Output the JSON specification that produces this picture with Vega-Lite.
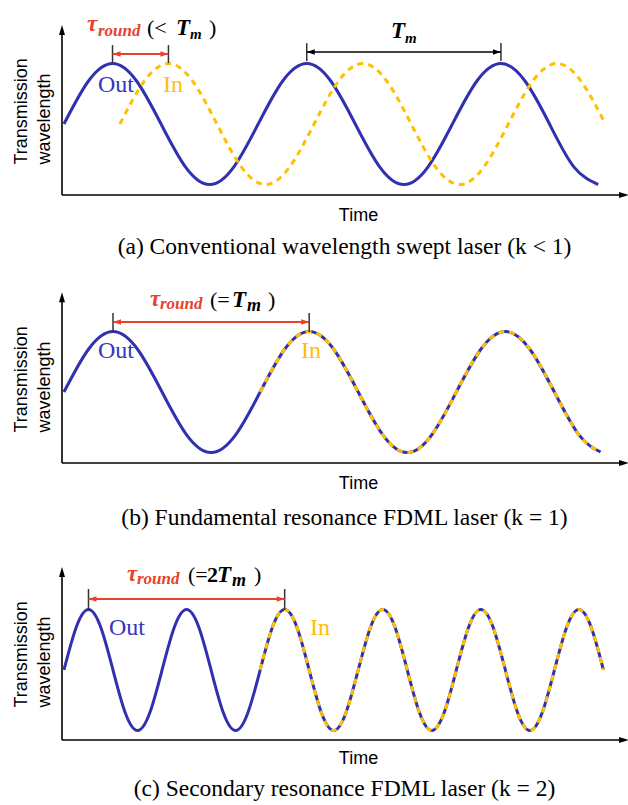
{
  "$schema": "https://vega.github.io/schema/vega-lite/v6.json",
  "background": "white",
  "padding": {"left": 12, "top": 10, "right": 0, "bottom": 0},
  "spacing": 19,
  "config": {
    "view": {"stroke": null},
    "axis": {"domain": false, "ticks": false, "labels": false, "grid": false, "titleFont": "Liberation Sans", "titleFontSize": 18, "titleFontWeight": "normal", "titleColor": "#000"},
    "title": {"font": "Liberation Serif", "fontSize": 23.5, "fontWeight": "normal", "color": "#000", "orient": "bottom", "frame": "group", "anchor": "middle"}
  },
  "datasets": {
    "curves": [
      {"p":"a","s":"Out","t":0.01,"w":0},{"p":"a","s":"Out","t":0.134,"w":0.707},{"p":"a","s":"Out","t":0.258,"w":1},{"p":"a","s":"Out","t":0.381,"w":0.707},{"p":"a","s":"Out","t":0.505,"w":0},{"p":"a","s":"Out","t":0.629,"w":-0.707},{"p":"a","s":"Out","t":0.753,"w":-1},{"p":"a","s":"Out","t":0.876,"w":-0.707},{"p":"a","s":"Out","t":1.0,"w":0},{"p":"a","s":"Out","t":1.124,"w":0.707},{"p":"a","s":"Out","t":1.248,"w":1},{"p":"a","s":"Out","t":1.371,"w":0.707},{"p":"a","s":"Out","t":1.495,"w":0},{"p":"a","s":"Out","t":1.619,"w":-0.707},{"p":"a","s":"Out","t":1.743,"w":-1},{"p":"a","s":"Out","t":1.866,"w":-0.707},{"p":"a","s":"Out","t":1.99,"w":0},{"p":"a","s":"Out","t":2.114,"w":0.707},{"p":"a","s":"Out","t":2.238,"w":1},{"p":"a","s":"Out","t":2.361,"w":0.707},{"p":"a","s":"Out","t":2.485,"w":0},{"p":"a","s":"Out","t":2.609,"w":-0.707},{"p":"a","s":"Out","t":2.733,"w":-1},
      {"p":"a","s":"In","t":0.295,"w":0},{"p":"a","s":"In","t":0.419,"w":0.707},{"p":"a","s":"In","t":0.543,"w":1},{"p":"a","s":"In","t":0.666,"w":0.707},{"p":"a","s":"In","t":0.79,"w":0},{"p":"a","s":"In","t":0.914,"w":-0.707},{"p":"a","s":"In","t":1.038,"w":-1},{"p":"a","s":"In","t":1.161,"w":-0.707},{"p":"a","s":"In","t":1.285,"w":0},{"p":"a","s":"In","t":1.409,"w":0.707},{"p":"a","s":"In","t":1.533,"w":1},{"p":"a","s":"In","t":1.656,"w":0.707},{"p":"a","s":"In","t":1.78,"w":0},{"p":"a","s":"In","t":1.904,"w":-0.707},{"p":"a","s":"In","t":2.028,"w":-1},{"p":"a","s":"In","t":2.151,"w":-0.707},{"p":"a","s":"In","t":2.275,"w":0},{"p":"a","s":"In","t":2.399,"w":0.707},{"p":"a","s":"In","t":2.523,"w":1},{"p":"a","s":"In","t":2.646,"w":0.707},{"p":"a","s":"In","t":2.77,"w":0},
      {"p":"b","s":"Out","t":0.01,"w":0},{"p":"b","s":"Out","t":0.135,"w":0.707},{"p":"b","s":"Out","t":0.26,"w":1},{"p":"b","s":"Out","t":0.385,"w":0.707},{"p":"b","s":"Out","t":0.51,"w":0},{"p":"b","s":"Out","t":0.635,"w":-0.707},{"p":"b","s":"Out","t":0.76,"w":-1},{"p":"b","s":"Out","t":0.885,"w":-0.707},{"p":"b","s":"Out","t":1.01,"w":0},{"p":"b","s":"Out","t":1.135,"w":0.707},{"p":"b","s":"Out","t":1.26,"w":1},{"p":"b","s":"Out","t":1.385,"w":0.707},{"p":"b","s":"Out","t":1.51,"w":0},{"p":"b","s":"Out","t":1.635,"w":-0.707},{"p":"b","s":"Out","t":1.76,"w":-1},{"p":"b","s":"Out","t":1.885,"w":-0.707},{"p":"b","s":"Out","t":2.01,"w":0},{"p":"b","s":"Out","t":2.135,"w":0.707},{"p":"b","s":"Out","t":2.26,"w":1},{"p":"b","s":"Out","t":2.385,"w":0.707},{"p":"b","s":"Out","t":2.51,"w":0},{"p":"b","s":"Out","t":2.635,"w":-0.707},{"p":"b","s":"Out","t":2.745,"w":-0.99},
      {"p":"b","s":"In","t":1.01,"w":0},{"p":"b","s":"In","t":1.135,"w":0.707},{"p":"b","s":"In","t":1.26,"w":1},{"p":"b","s":"In","t":1.385,"w":0.707},{"p":"b","s":"In","t":1.51,"w":0},{"p":"b","s":"In","t":1.635,"w":-0.707},{"p":"b","s":"In","t":1.76,"w":-1},{"p":"b","s":"In","t":1.885,"w":-0.707},{"p":"b","s":"In","t":2.01,"w":0},{"p":"b","s":"In","t":2.135,"w":0.707},{"p":"b","s":"In","t":2.26,"w":1},{"p":"b","s":"In","t":2.385,"w":0.707},{"p":"b","s":"In","t":2.51,"w":0},{"p":"b","s":"In","t":2.635,"w":-0.707},{"p":"b","s":"In","t":2.745,"w":-0.99},
      {"p":"c","s":"Out","t":0.01,"w":0},{"p":"c","s":"Out","t":0.0725,"w":0.707},{"p":"c","s":"Out","t":0.135,"w":1},{"p":"c","s":"Out","t":0.1975,"w":0.707},{"p":"c","s":"Out","t":0.26,"w":0},{"p":"c","s":"Out","t":0.3225,"w":-0.707},{"p":"c","s":"Out","t":0.385,"w":-1},{"p":"c","s":"Out","t":0.4475,"w":-0.707},{"p":"c","s":"Out","t":0.51,"w":0},{"p":"c","s":"Out","t":0.5725,"w":0.707},{"p":"c","s":"Out","t":0.635,"w":1},{"p":"c","s":"Out","t":0.6975,"w":0.707},{"p":"c","s":"Out","t":0.76,"w":0},{"p":"c","s":"Out","t":0.8225,"w":-0.707},{"p":"c","s":"Out","t":0.885,"w":-1},{"p":"c","s":"Out","t":0.9475,"w":-0.707},{"p":"c","s":"Out","t":1.01,"w":0},{"p":"c","s":"Out","t":1.0725,"w":0.707},{"p":"c","s":"Out","t":1.135,"w":1},{"p":"c","s":"Out","t":1.1975,"w":0.707},{"p":"c","s":"Out","t":1.26,"w":0},{"p":"c","s":"Out","t":1.3225,"w":-0.707},{"p":"c","s":"Out","t":1.385,"w":-1},{"p":"c","s":"Out","t":1.4475,"w":-0.707},{"p":"c","s":"Out","t":1.51,"w":0},{"p":"c","s":"Out","t":1.5725,"w":0.707},{"p":"c","s":"Out","t":1.635,"w":1},{"p":"c","s":"Out","t":1.6975,"w":0.707},{"p":"c","s":"Out","t":1.76,"w":0},{"p":"c","s":"Out","t":1.8225,"w":-0.707},{"p":"c","s":"Out","t":1.885,"w":-1},{"p":"c","s":"Out","t":1.9475,"w":-0.707},{"p":"c","s":"Out","t":2.01,"w":0},{"p":"c","s":"Out","t":2.0725,"w":0.707},{"p":"c","s":"Out","t":2.135,"w":1},{"p":"c","s":"Out","t":2.1975,"w":0.707},{"p":"c","s":"Out","t":2.26,"w":0},{"p":"c","s":"Out","t":2.3225,"w":-0.707},{"p":"c","s":"Out","t":2.385,"w":-1},{"p":"c","s":"Out","t":2.4475,"w":-0.707},{"p":"c","s":"Out","t":2.51,"w":0},{"p":"c","s":"Out","t":2.5725,"w":0.707},{"p":"c","s":"Out","t":2.635,"w":1},{"p":"c","s":"Out","t":2.6975,"w":0.707},{"p":"c","s":"Out","t":2.76,"w":0},
      {"p":"c","s":"In","t":1.01,"w":0},{"p":"c","s":"In","t":1.0725,"w":0.707},{"p":"c","s":"In","t":1.135,"w":1},{"p":"c","s":"In","t":1.1975,"w":0.707},{"p":"c","s":"In","t":1.26,"w":0},{"p":"c","s":"In","t":1.3225,"w":-0.707},{"p":"c","s":"In","t":1.385,"w":-1},{"p":"c","s":"In","t":1.4475,"w":-0.707},{"p":"c","s":"In","t":1.51,"w":0},{"p":"c","s":"In","t":1.5725,"w":0.707},{"p":"c","s":"In","t":1.635,"w":1},{"p":"c","s":"In","t":1.6975,"w":0.707},{"p":"c","s":"In","t":1.76,"w":0},{"p":"c","s":"In","t":1.8225,"w":-0.707},{"p":"c","s":"In","t":1.885,"w":-1},{"p":"c","s":"In","t":1.9475,"w":-0.707},{"p":"c","s":"In","t":2.01,"w":0},{"p":"c","s":"In","t":2.0725,"w":0.707},{"p":"c","s":"In","t":2.135,"w":1},{"p":"c","s":"In","t":2.1975,"w":0.707},{"p":"c","s":"In","t":2.26,"w":0},{"p":"c","s":"In","t":2.3225,"w":-0.707},{"p":"c","s":"In","t":2.385,"w":-1},{"p":"c","s":"In","t":2.4475,"w":-0.707},{"p":"c","s":"In","t":2.51,"w":0},{"p":"c","s":"In","t":2.5725,"w":0.707},{"p":"c","s":"In","t":2.635,"w":1},{"p":"c","s":"In","t":2.6975,"w":0.707},{"p":"c","s":"In","t":2.76,"w":0}
    ]
  },
  "vconcat": [
    {
      "width": 565, "height": 185,
      "title": {"text": "(a) Conventional wavelength swept laser (k < 1)", "offset": 11},
      "encoding": {
        "x": {"field": "t", "type": "quantitative", "scale": {"domain": [0, 2.88], "nice": false, "zero": false}, "axis": {"title": "Time", "titleX": 296, "titleY": 11, "titleAlign": "center", "titleBaseline": "top"}},
        "y": {"field": "w", "type": "quantitative", "scale": {"domain": [-1.172, 1.884], "nice": false, "zero": false}, "axis": {"title": ["Transmission", "wavelength"], "titleAngle": -90, "titleX": -32, "titleY": 154, "titleAlign": "left", "titleBaseline": "bottom", "titleLineHeight": 23}}
      },
      "layer": [
        {"data": {"values": [{"t": 0, "w": -1.172, "w2": 1.552}]}, "mark": {"type": "rule", "color": "#000", "strokeWidth": 1.6}, "encoding": {"y2": {"field": "w2"}}},
        {"data": {"values": [{"t": 0, "t2": 2.865, "w": -1.172}]}, "mark": {"type": "rule", "color": "#000", "strokeWidth": 1.6}, "encoding": {"x2": {"field": "t2"}}},
        {"data": {"values": [{"t": 0, "w": 1.552}]}, "mark": {"type": "point", "shape": "M0,-1L0.6,1L-0.6,1Z", "size": 100, "filled": true, "color": "#000", "opacity": 1}},
        {"data": {"values": [{"t": 2.865, "w": -1.172}]}, "mark": {"type": "point", "shape": "M1,0L-1,-0.6L-1,0.6Z", "size": 100, "filled": true, "color": "#000", "opacity": 1}},
        {"data": {"name": "curves"}, "transform": [{"filter": "datum.p == 'a' && datum.s == 'Out'"}], "mark": {"type": "line", "color": "#3030B0", "strokeWidth": 3, "interpolate": "natural"}},
        {"data": {"name": "curves"}, "transform": [{"filter": "datum.p == 'a' && datum.s == 'In'"}], "mark": {"type": "line", "color": "#FFC000", "strokeWidth": 3, "strokeDash": [6, 5], "interpolate": "natural"}},
        {"data": {"values": [{"t": 0.2575, "w": 1.007, "w2": 1.304}, {"t": 0.5425, "w": 1.007, "w2": 1.304}, {"t": 1.2475, "w": 1.04, "w2": 1.337}, {"t": 2.2375, "w": 1.04, "w2": 1.337}]}, "mark": {"type": "rule", "color": "#333", "strokeWidth": 1.5}, "encoding": {"y2": {"field": "w2"}}},
        {"data": {"values": [{"t": 0.2575, "t2": 0.5425, "w": 1.156}]}, "mark": {"type": "rule", "color": "#E8412C", "strokeWidth": 2}, "encoding": {"x2": {"field": "t2"}}},
        {"data": {"values": [{"t": 1.2475, "t2": 2.2375, "w": 1.189}]}, "mark": {"type": "rule", "color": "#000", "strokeWidth": 1.6}, "encoding": {"x2": {"field": "t2"}}},
        {"data": {"values": [{"t": 0.2779, "w": 1.156}]}, "mark": {"type": "point", "shape": "M-1,0L1,-0.7L1,0.7Z", "size": 64, "filled": true, "color": "#E8412C", "opacity": 1}},
        {"data": {"values": [{"t": 0.5221, "w": 1.156}]}, "mark": {"type": "point", "shape": "M1,0L-1,-0.7L-1,0.7Z", "size": 64, "filled": true, "color": "#E8412C", "opacity": 1}},
        {"data": {"values": [{"t": 1.2679, "w": 1.189}]}, "mark": {"type": "point", "shape": "M-1,0L1,-0.7L1,0.7Z", "size": 64, "filled": true, "color": "#000", "opacity": 1}},
        {"data": {"values": [{"t": 2.2171, "w": 1.189}]}, "mark": {"type": "point", "shape": "M1,0L-1,-0.7L-1,0.7Z", "size": 64, "filled": true, "color": "#000", "opacity": 1}},
        {"data": {"values": [{"t": 0.1274, "w": 1.535, "label": "τ"}]}, "mark": {"type": "text", "font": "Liberation Serif", "fontSize": 23, "fontWeight": "bold", "fontStyle": "italic", "color": "#E8412C", "align": "left", "baseline": "alphabetic"}, "encoding": {"text": {"field": "label"}}},
        {"data": {"values": [{"t": 0.1835, "w": 1.453, "label": "round"}]}, "mark": {"type": "text", "font": "Liberation Serif", "fontSize": 17, "fontWeight": "bold", "fontStyle": "italic", "color": "#E8412C", "align": "left", "baseline": "alphabetic"}, "encoding": {"text": {"field": "label"}}},
        {"data": {"values": [{"t": 0.4333, "w": 1.469, "label": "(<"}, {"t": 0.7493, "w": 1.469, "label": ")"}]}, "mark": {"type": "text", "font": "Liberation Serif", "fontSize": 22, "color": "#000", "align": "left", "baseline": "alphabetic"}, "encoding": {"text": {"field": "label"}}},
        {"data": {"values": [{"t": 0.5811, "w": 1.469, "label": "T"}, {"t": 1.677, "w": 1.42, "label": "T"}]}, "mark": {"type": "text", "font": "Liberation Serif", "fontSize": 23, "fontWeight": "bold", "fontStyle": "italic", "color": "#000", "align": "left", "baseline": "alphabetic"}, "encoding": {"text": {"field": "label"}}},
        {"data": {"values": [{"t": 0.6525, "w": 1.403, "label": "m"}, {"t": 1.748, "w": 1.337, "label": "m"}]}, "mark": {"type": "text", "font": "Liberation Serif", "fontSize": 15, "fontWeight": "bold", "fontStyle": "italic", "color": "#000", "align": "left", "baseline": "alphabetic"}, "encoding": {"text": {"field": "label"}}},
        {"data": {"values": [{"t": 0.1835, "w": 0.528, "label": "Out"}]}, "mark": {"type": "text", "font": "Liberation Serif", "fontSize": 24, "color": "#3535C0", "align": "left", "baseline": "alphabetic"}, "encoding": {"text": {"field": "label"}}},
        {"data": {"values": [{"t": 0.5148, "w": 0.528, "label": "In"}]}, "mark": {"type": "text", "font": "Liberation Serif", "fontSize": 24, "color": "#FFC000", "align": "left", "baseline": "alphabetic"}, "encoding": {"text": {"field": "label"}}}
      ]
    },
    {
      "width": 565, "height": 185,
      "title": {"text": "(b) Fundamental resonance FDML laser (k = 1)", "offset": 14},
      "encoding": {
        "x": {"field": "t", "type": "quantitative", "scale": {"domain": [0, 2.88], "nice": false, "zero": false}, "axis": {"title": "Time", "titleX": 296, "titleY": 11, "titleAlign": "center", "titleBaseline": "top"}},
        "y": {"field": "w", "type": "quantitative", "scale": {"domain": [-1.172, 1.884], "nice": false, "zero": false}, "axis": {"title": ["Transmission", "wavelength"], "titleAngle": -90, "titleX": -32, "titleY": 154, "titleAlign": "left", "titleBaseline": "bottom", "titleLineHeight": 23}}
      },
      "layer": [
        {"data": {"values": [{"t": 0, "w": -1.172, "w2": 1.568}]}, "mark": {"type": "rule", "color": "#000", "strokeWidth": 1.6}, "encoding": {"y2": {"field": "w2"}}},
        {"data": {"values": [{"t": 0, "t2": 2.865, "w": -1.172}]}, "mark": {"type": "rule", "color": "#000", "strokeWidth": 1.6}, "encoding": {"x2": {"field": "t2"}}},
        {"data": {"values": [{"t": 0, "w": 1.568}]}, "mark": {"type": "point", "shape": "M0,-1L0.6,1L-0.6,1Z", "size": 100, "filled": true, "color": "#000", "opacity": 1}},
        {"data": {"values": [{"t": 2.865, "w": -1.172}]}, "mark": {"type": "point", "shape": "M1,0L-1,-0.6L-1,0.6Z", "size": 100, "filled": true, "color": "#000", "opacity": 1}},
        {"data": {"name": "curves"}, "transform": [{"filter": "datum.p == 'b' && datum.s == 'Out'"}], "mark": {"type": "line", "color": "#3030B0", "strokeWidth": 3, "interpolate": "natural"}},
        {"data": {"name": "curves"}, "transform": [{"filter": "datum.p == 'b' && datum.s == 'In'"}], "mark": {"type": "line", "color": "#FFC000", "strokeWidth": 3, "strokeDash": [6, 5], "interpolate": "natural"}},
        {"data": {"values": [{"t": 0.26, "w": 0.99, "w2": 1.304}, {"t": 1.26, "w": 0.99, "w2": 1.304}]}, "mark": {"type": "rule", "color": "#333", "strokeWidth": 1.5}, "encoding": {"y2": {"field": "w2"}}},
        {"data": {"values": [{"t": 0.26, "t2": 1.26, "w": 1.156}]}, "mark": {"type": "rule", "color": "#E8412C", "strokeWidth": 2}, "encoding": {"x2": {"field": "t2"}}},
        {"data": {"values": [{"t": 0.2804, "w": 1.156}]}, "mark": {"type": "point", "shape": "M-1,0L1,-0.7L1,0.7Z", "size": 64, "filled": true, "color": "#E8412C", "opacity": 1}},
        {"data": {"values": [{"t": 1.2396, "w": 1.156}]}, "mark": {"type": "point", "shape": "M1,0L-1,-0.7L-1,0.7Z", "size": 64, "filled": true, "color": "#E8412C", "opacity": 1}},
        {"data": {"values": [{"t": 0.4486, "w": 1.42, "label": "τ"}]}, "mark": {"type": "text", "font": "Liberation Serif", "fontSize": 23, "fontWeight": "bold", "fontStyle": "italic", "color": "#E8412C", "align": "left", "baseline": "alphabetic"}, "encoding": {"text": {"field": "label"}}},
        {"data": {"values": [{"t": 0.4995, "w": 1.37, "label": "round"}]}, "mark": {"type": "text", "font": "Liberation Serif", "fontSize": 17, "fontWeight": "bold", "fontStyle": "italic", "color": "#E8412C", "align": "left", "baseline": "alphabetic"}, "encoding": {"text": {"field": "label"}}},
        {"data": {"values": [{"t": 0.7544, "w": 1.403, "label": "(="}, {"t": 1.05, "w": 1.403, "label": ")"}]}, "mark": {"type": "text", "font": "Liberation Serif", "fontSize": 22, "color": "#000", "align": "left", "baseline": "alphabetic"}, "encoding": {"text": {"field": "label"}}},
        {"data": {"values": [{"t": 0.8666, "w": 1.403, "label": "T"}]}, "mark": {"type": "text", "font": "Liberation Serif", "fontSize": 23, "fontWeight": "bold", "fontStyle": "italic", "color": "#000", "align": "left", "baseline": "alphabetic"}, "encoding": {"text": {"field": "label"}}},
        {"data": {"values": [{"t": 0.943, "w": 1.337, "label": "m"}]}, "mark": {"type": "text", "font": "Liberation Serif", "fontSize": 18, "fontWeight": "bold", "fontStyle": "italic", "color": "#000", "align": "left", "baseline": "alphabetic"}, "encoding": {"text": {"field": "label"}}},
        {"data": {"values": [{"t": 0.1835, "w": 0.561, "label": "Out"}]}, "mark": {"type": "text", "font": "Liberation Serif", "fontSize": 24, "color": "#3535C0", "align": "left", "baseline": "alphabetic"}, "encoding": {"text": {"field": "label"}}},
        {"data": {"values": [{"t": 1.218, "w": 0.561, "label": "In"}]}, "mark": {"type": "text", "font": "Liberation Serif", "fontSize": 24, "color": "#FFC000", "align": "left", "baseline": "alphabetic"}, "encoding": {"text": {"field": "label"}}}
      ]
    },
    {
      "width": 565, "height": 191,
      "title": {"text": "(c) Secondary resonance FDML laser (k = 2)", "offset": 10},
      "encoding": {
        "x": {"field": "t", "type": "quantitative", "scale": {"domain": [0, 2.88], "nice": false, "zero": false}, "axis": {"title": "Time", "titleX": 296, "titleY": 9, "titleAlign": "center", "titleBaseline": "top"}},
        "y": {"field": "w", "type": "quantitative", "scale": {"domain": [-1.156, 1.998], "nice": false, "zero": false}, "axis": {"title": ["Transmission", "wavelength"], "titleAngle": -90, "titleX": -32, "titleY": 158, "titleAlign": "left", "titleBaseline": "bottom", "titleLineHeight": 23}}
      },
      "layer": [
        {"data": {"values": [{"t": 0, "w": -1.156, "w2": 1.618}]}, "mark": {"type": "rule", "color": "#000", "strokeWidth": 1.6}, "encoding": {"y2": {"field": "w2"}}},
        {"data": {"values": [{"t": 0, "t2": 2.865, "w": -1.156}]}, "mark": {"type": "rule", "color": "#000", "strokeWidth": 1.6}, "encoding": {"x2": {"field": "t2"}}},
        {"data": {"values": [{"t": 0, "w": 1.618}]}, "mark": {"type": "point", "shape": "M0,-1L0.6,1L-0.6,1Z", "size": 100, "filled": true, "color": "#000", "opacity": 1}},
        {"data": {"values": [{"t": 2.865, "w": -1.156}]}, "mark": {"type": "point", "shape": "M1,0L-1,-0.6L-1,0.6Z", "size": 100, "filled": true, "color": "#000", "opacity": 1}},
        {"data": {"name": "curves"}, "transform": [{"filter": "datum.p == 'c' && datum.s == 'Out'"}], "mark": {"type": "line", "color": "#3030B0", "strokeWidth": 3, "interpolate": "natural"}},
        {"data": {"name": "curves"}, "transform": [{"filter": "datum.p == 'c' && datum.s == 'In'"}], "mark": {"type": "line", "color": "#FFC000", "strokeWidth": 3, "strokeDash": [6, 5], "interpolate": "natural"}},
        {"data": {"values": [{"t": 0.135, "w": 0.99, "w2": 1.337}, {"t": 1.135, "w": 0.99, "w2": 1.337}]}, "mark": {"type": "rule", "color": "#333", "strokeWidth": 1.5}, "encoding": {"y2": {"field": "w2"}}},
        {"data": {"values": [{"t": 0.135, "t2": 1.135, "w": 1.172}]}, "mark": {"type": "rule", "color": "#E8412C", "strokeWidth": 2}, "encoding": {"x2": {"field": "t2"}}},
        {"data": {"values": [{"t": 0.1554, "w": 1.172}]}, "mark": {"type": "point", "shape": "M-1,0L1,-0.7L1,0.7Z", "size": 64, "filled": true, "color": "#E8412C", "opacity": 1}},
        {"data": {"values": [{"t": 1.1146, "w": 1.172}]}, "mark": {"type": "point", "shape": "M1,0L-1,-0.7L-1,0.7Z", "size": 64, "filled": true, "color": "#E8412C", "opacity": 1}},
        {"data": {"values": [{"t": 0.3313, "w": 1.469, "label": "τ"}]}, "mark": {"type": "text", "font": "Liberation Serif", "fontSize": 23, "fontWeight": "bold", "fontStyle": "italic", "color": "#E8412C", "align": "left", "baseline": "alphabetic"}, "encoding": {"text": {"field": "label"}}},
        {"data": {"values": [{"t": 0.382, "w": 1.42, "label": "round"}]}, "mark": {"type": "text", "font": "Liberation Serif", "fontSize": 17, "fontWeight": "bold", "fontStyle": "italic", "color": "#E8412C", "align": "left", "baseline": "alphabetic"}, "encoding": {"text": {"field": "label"}}},
        {"data": {"values": [{"t": 0.6423, "w": 1.453, "label": "(="}, {"t": 0.9787, "w": 1.453, "label": ")"}]}, "mark": {"type": "text", "font": "Liberation Serif", "fontSize": 22, "color": "#000", "align": "left", "baseline": "alphabetic"}, "encoding": {"text": {"field": "label"}}},
        {"data": {"values": [{"t": 0.7391, "w": 1.453, "label": "2"}]}, "mark": {"type": "text", "font": "Liberation Serif", "fontSize": 22, "fontWeight": "bold", "color": "#000", "align": "left", "baseline": "alphabetic"}, "encoding": {"text": {"field": "label"}}},
        {"data": {"values": [{"t": 0.7901, "w": 1.453, "label": "T"}]}, "mark": {"type": "text", "font": "Liberation Serif", "fontSize": 23, "fontWeight": "bold", "fontStyle": "italic", "color": "#000", "align": "left", "baseline": "alphabetic"}, "encoding": {"text": {"field": "label"}}},
        {"data": {"values": [{"t": 0.8666, "w": 1.387, "label": "m"}]}, "mark": {"type": "text", "font": "Liberation Serif", "fontSize": 18, "fontWeight": "bold", "fontStyle": "italic", "color": "#000", "align": "left", "baseline": "alphabetic"}, "encoding": {"text": {"field": "label"}}},
        {"data": {"values": [{"t": 0.2396, "w": 0.578, "label": "Out"}]}, "mark": {"type": "text", "font": "Liberation Serif", "fontSize": 24, "color": "#3535C0", "align": "left", "baseline": "alphabetic"}, "encoding": {"text": {"field": "label"}}},
        {"data": {"values": [{"t": 1.264, "w": 0.578, "label": "In"}]}, "mark": {"type": "text", "font": "Liberation Serif", "fontSize": 24, "color": "#FFC000", "align": "left", "baseline": "alphabetic"}, "encoding": {"text": {"field": "label"}}}
      ]
    }
  ]
}
